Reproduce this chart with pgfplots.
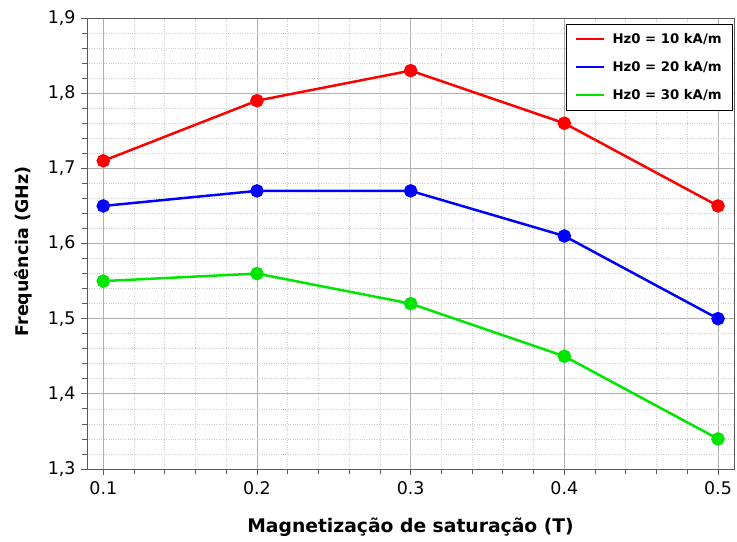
\documentclass[border=0pt]{standalone}
\usepackage{pgfplots}
\pgfplotsset{compat=1.18}
\usepackage{fontspec}
\setmainfont{DejaVu Sans}

\definecolor{cred}{RGB}{255,0,0}
\definecolor{cblue}{RGB}{0,0,255}
\definecolor{cgreen}{RGB}{0,230,0}
\definecolor{majgrid}{RGB}{175,175,175}
\definecolor{mingrid}{RGB}{205,205,205}
\definecolor{axcol}{RGB}{90,90,90}

\begin{document}
\begin{tikzpicture}
% fixed canvas around the axis box
\path[use as bounding box] (-87bp,-73bp) rectangle (650bp,469bp);
\begin{axis}[
  at={(0,0)}, anchor=south west,
  scale only axis,
  width=647bp, height=451bp,
  xmin=0.0894, xmax=0.5104,
  ymin=1.3, ymax=1.9,
  xtick={0.1,0.2,0.3,0.4,0.5},
  ytick={1.3,1.4,1.5,1.6,1.7,1.8,1.9},
  minor tick num=4,
  grid=both,
  major grid style={majgrid, line width=0.9pt},
  minor grid style={mingrid, dotted, line width=0.7pt},
  axis line style={axcol, line width=1pt},
  tick style={axcol, line width=0.8pt},
  tick align=outside,
  major tick length=6bp,
  minor tick length=5bp,
  xtick pos=bottom, ytick pos=left,
  /pgf/number format/assume math mode=true,
  xticklabel style={/pgf/number format/fixed, /pgf/number format/precision=1, /pgf/number format/fixed zerofill},
  yticklabel style={/pgf/number format/fixed, /pgf/number format/precision=1, /pgf/number format/fixed zerofill, /pgf/number format/use comma},
  tick label style={font=\fontsize{17.5}{20}\selectfont, black},
  xticklabel shift=3bp,
  yticklabel shift=2bp,
  xlabel={\textbf{Magnetização de saturação (T)}},
  ylabel={\textbf{Frequência (GHz)}},
  xlabel style={font=\fontsize{18.8}{21}\selectfont, black, at={(0.5,-73bp)}, anchor=center, yshift=15bp},
  ylabel style={font=\fontsize{17.5}{20}\selectfont, black, at={(-87bp,0.5)}, anchor=center, yshift=-23bp, xshift=-8bp},
  legend style={at={(0.9985,0.9867)}, anchor=north east,
    font=\fontsize{13.3}{16}\selectfont\bfseries,
    draw=black, line width=0.8pt, fill=white,
    row sep=12.5bp, inner xsep=9bp, inner ysep=7bp,
    /tikz/every odd column/.append style={column sep=5bp}},
  legend cell align=left,
  legend image code/.code={\draw[#1, mark=none, line width=2.2pt] (0bp,0bp) -- (28bp,0bp);},
  every axis plot/.append style={line width=2.5pt, mark=*, mark size=5.5bp},
]
\addplot[cred, mark options={fill=cred}] coordinates {
  (0.1,1.71) (0.2,1.79) (0.3,1.83) (0.4,1.76) (0.5,1.65)};
\addlegendentry{Hz0 = 10 kA/m}
\addplot[cblue, mark options={fill=cblue}] coordinates {
  (0.1,1.65) (0.2,1.67) (0.3,1.67) (0.4,1.61) (0.5,1.50)};
\addlegendentry{Hz0 = 20 kA/m}
\addplot[cgreen, mark options={fill=cgreen}] coordinates {
  (0.1,1.55) (0.2,1.56) (0.3,1.52) (0.4,1.45) (0.5,1.34)};
\addlegendentry{Hz0 = 30 kA/m}
\end{axis}
\end{tikzpicture}
\end{document}
